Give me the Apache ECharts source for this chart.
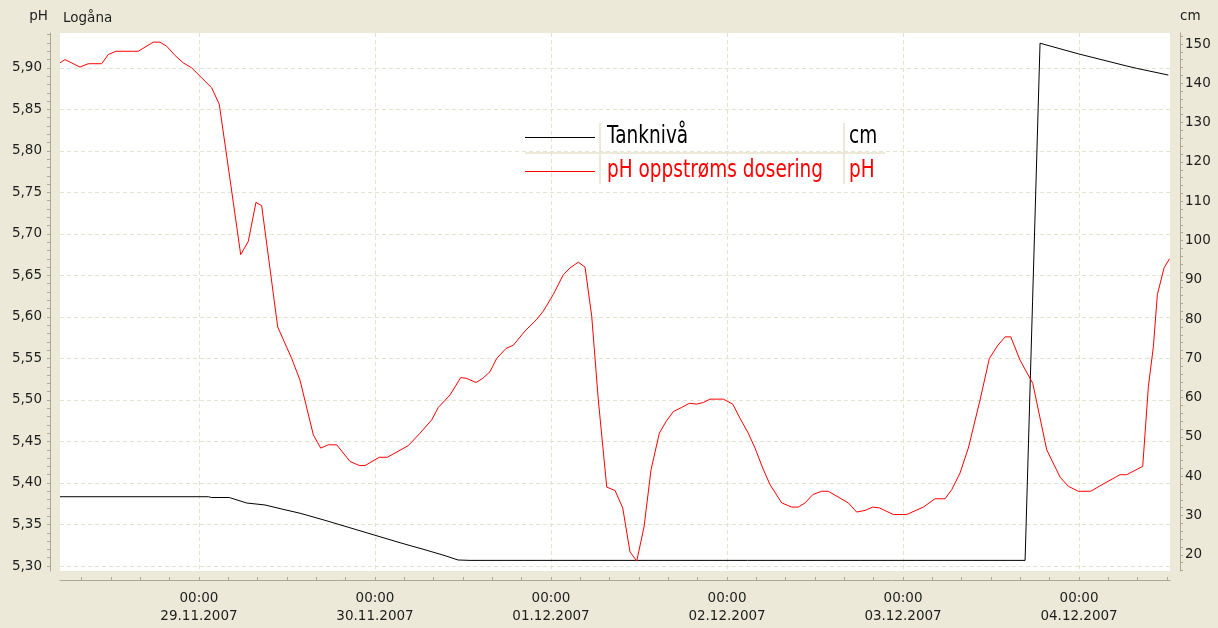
<!DOCTYPE html>
<html>
<head>
<meta charset="utf-8">
<title>Logåna</title>
<script src="https://cdn.jsdelivr.net/npm/echarts@6/dist/echarts.min.js"></script>
<style>
  html, body { margin: 0; padding: 0; background: #ece9d8; }
  #chart { width: 1218px; height: 628px; }
</style>
</head>
<body>
<div id="chart"></div>
<script>
// time in hours after 28.11.2007 00:00
const phHours = [5.05, 5.73, 7.77, 8.90, 10.73, 11.63, 12.68, 15.72, 17.77, 18.68, 19.60, 20.73, 21.86, 23.00,
  24.14, 25.73, 26.77, 27.55, 28.68, 29.69, 30.72, 31.77, 32.55, 34.73, 36.64, 37.77, 39.59, 40.60, 41.63, 42.78,
  44.59, 45.86, 46.64, 48.59, 49.68, 52.54, 54.14, 55.73, 56.63, 58.23, 59.69, 60.50, 61.77, 62.69, 63.68, 64.59,
  65.86, 66.86, 68.45, 70.05, 70.95, 72.31, 73.68, 74.59, 75.72, 76.64, 77.55, 78.45, 79.60, 80.73, 81.78, 82.77,
  83.69, 84.68, 85.64, 86.77, 87.68, 88.68, 89.82, 90.86, 91.87, 92.77, 93.68, 95.50, 96.78, 97.77, 98.90, 99.82,
  100.87, 101.86, 103.46, 104.82, 105.72, 106.64, 107.69, 108.91, 109.81, 112.54, 113.68, 114.82, 115.87, 116.77,
  118.68, 120.50, 122.77, 124.36, 125.73, 126.64, 127.77, 128.90, 130.50, 131.77, 132.86, 133.91, 134.69, 135.95,
  137.69, 139.59, 141.41, 142.54, 143.90, 145.59, 147.54, 149.59, 150.50, 152.68, 153.45, 154.13, 154.68, 155.59, 156.32];
const phValues = [5.906, 5.910, 5.901, 5.905, 5.905, 5.916, 5.920, 5.920, 5.931, 5.931, 5.926, 5.915, 5.906, 5.900,
  5.890, 5.876, 5.856, 5.808, 5.738, 5.675, 5.691, 5.738, 5.734, 5.588, 5.550, 5.524, 5.458, 5.442, 5.446, 5.446,
  5.426, 5.421, 5.421, 5.431, 5.431, 5.445, 5.460, 5.476, 5.491, 5.506, 5.527, 5.526, 5.521, 5.526, 5.534, 5.550,
  5.562, 5.566, 5.583, 5.597, 5.607, 5.627, 5.651, 5.659, 5.666, 5.660, 5.601, 5.500, 5.395, 5.391, 5.370, 5.317,
  5.306, 5.347, 5.416, 5.460, 5.474, 5.486, 5.491, 5.496, 5.495, 5.497, 5.501, 5.501, 5.495, 5.478, 5.460, 5.442,
  5.418, 5.398, 5.376, 5.371, 5.371, 5.376, 5.386, 5.390, 5.390, 5.376, 5.365, 5.367, 5.371, 5.370,
  5.362, 5.362, 5.371, 5.381, 5.381, 5.392, 5.412, 5.442, 5.500, 5.550, 5.565, 5.576, 5.576, 5.548,
  5.520, 5.440, 5.407, 5.396, 5.390, 5.390, 5.400, 5.410, 5.410, 5.420, 5.516, 5.564, 5.627, 5.659, 5.670];

const levelHours = [5.05, 25.27, 25.73, 28.13, 30.50, 33.00, 35.45, 37.77, 41.18, 44.59, 48.00, 51.41, 54.82,
  57.55, 59.32, 60.95, 136.64, 138.68, 143.90, 150.50, 151.86, 156.18];
const levelValues = [34.8, 34.8, 34.6, 34.6, 33.2, 32.7, 31.6, 30.6, 28.8, 26.9, 25.0, 23.1, 21.3,
  19.8, 18.7, 18.6, 18.6, 150.2, 147.5, 144.4, 143.8, 142.1];

const phTicks = [5.30, 5.35, 5.40, 5.45, 5.50, 5.55, 5.60, 5.65, 5.70, 5.75, 5.80, 5.85, 5.90];
const cmTicks = [20, 30, 40, 50, 60, 70, 80, 90, 100, 110, 120, 130, 140, 150];
const dayHours = [24, 48, 72, 96, 120, 144];
const dayLabels = ['29.11.2007', '30.11.2007', '01.12.2007', '02.12.2007', '03.12.2007', '04.12.2007'];

const xMin = 5.05, xMax = 156.4;
const phMin = 5.294, phMax = 5.942;
const cmMin = 15.9, cmMax = 152.8;

// small ticks: every 4 h, every 0.01 pH, every 2 cm
const hourTicks = [];
for (let h = 8; h <= xMax; h += 4) hourTicks.push(h);
const phMinor = [];
for (let i = 530; i <= 594; i++) phMinor.push(i / 100);
const cmMinor = [];
for (let c = 16; c <= 152; c += 2) cmMinor.push(c);

const font = 'DejaVu Sans, Verdana, sans-serif';
const textColor = '#1e1e1e';
const axisColor = '#aaa89a';
const gridColor = '#e6e3cc';

const chart = echarts.init(document.getElementById('chart'));
chart.setOption({
  backgroundColor: '#ece9d8',
  animation: false,
  title: {
    text: 'Logåna', left: 58, top: 6,
    textStyle: { fontFamily: font, fontSize: 13.5, fontWeight: 'normal', color: textColor }
  },
  grid: { left: 60, right: 48, top: 33, bottom: 57, show: true, backgroundColor: '#fff', borderWidth: 0 },
  xAxis: [
    {
      type: 'value', min: xMin, max: xMax, position: 'bottom', offset: 9,
      axisLine: { show: true, lineStyle: { color: axisColor } },
      axisTick: { show: true, inside: true, length: 3, customValues: hourTicks, lineStyle: { color: axisColor } },
      axisLabel: {
        customValues: dayHours, margin: 9, lineHeight: 18,
        fontFamily: font, fontSize: 13.5, color: textColor,
        formatter: v => {
          const i = dayHours.findIndex(d => Math.abs(d - v) < 0.01);
          return '00:00\n' + (i >= 0 ? dayLabels[i] : '');
        }
      },
      splitLine: { show: false }
    },
    {
      type: 'value', min: xMin, max: xMax, position: 'top',
      axisLine: { show: false },
      axisTick: { show: false, customValues: dayHours },
      axisLabel: { show: false },
      splitLine: { show: true, lineStyle: { color: gridColor, type: [4, 3] } }
    }
  ],
  yAxis: [
    {
      type: 'value', min: phMin, max: phMax, position: 'left', offset: 10,
      name: 'pH', nameLocation: 'end', nameGap: 17,
      nameTextStyle: { fontFamily: font, fontSize: 13.5, color: textColor, align: 'right', verticalAlign: 'middle', padding: [0, 2, 0, 0] },
      axisLine: { show: true, lineStyle: { color: axisColor } },
      axisTick: { show: true, length: 3, customValues: phMinor, lineStyle: { color: axisColor } },
      axisLabel: {
        customValues: phTicks, margin: 8, fontFamily: font, fontSize: 13.5, color: textColor,
        formatter: v => v.toFixed(2).replace('.', ',')
      },
      splitLine: { show: false }
    },
    {
      type: 'value', min: cmMin, max: cmMax, position: 'right', offset: 10,
      name: 'cm', nameLocation: 'end', nameGap: 17,
      nameTextStyle: { fontFamily: font, fontSize: 13.5, color: textColor, align: 'left', verticalAlign: 'middle' },
      axisLine: { show: true, lineStyle: { color: axisColor } },
      axisTick: { show: true, length: 3, customValues: cmMinor, lineStyle: { color: axisColor } },
      axisLabel: {
        customValues: cmTicks, margin: 5, fontFamily: font, fontSize: 13.5, color: textColor
      },
      splitLine: { show: false }
    },
    {
      type: 'value', min: phMin, max: phMax, position: 'left',
      axisLine: { show: false },
      axisTick: { show: false, customValues: phTicks },
      axisLabel: { show: false },
      splitLine: { show: true, lineStyle: { color: gridColor, type: [4, 3] } }
    }
  ],
  graphic: [
    // legend table
    { type: 'line', shape: { x1: 525, y1: 153, x2: 885, y2: 153 }, style: { stroke: '#ece9d8', lineWidth: 2 } },
    { type: 'line', shape: { x1: 600, y1: 123, x2: 600, y2: 184 }, style: { stroke: '#ece9d8', lineWidth: 2 } },
    { type: 'line', shape: { x1: 844, y1: 123, x2: 844, y2: 184 }, style: { stroke: '#ece9d8', lineWidth: 2 } },
    { type: 'line', shape: { x1: 525, y1: 137.5, x2: 595, y2: 137.5 }, style: { stroke: '#000', lineWidth: 1 } },
    { type: 'line', shape: { x1: 525, y1: 171.5, x2: 595, y2: 171.5 }, style: { stroke: '#ff0000', lineWidth: 1 } },
    { type: 'text', x: 607, y: 137, scaleY: 1.3,
      style: { text: 'Tanknivå', fill: '#000', font: '18.5px ' + font, verticalAlign: 'middle' } },
    { type: 'text', x: 849, y: 137, scaleY: 1.3,
      style: { text: 'cm', fill: '#000', font: '18.5px ' + font, verticalAlign: 'middle' } },
    { type: 'text', x: 607, y: 171, scaleY: 1.3,
      style: { text: 'pH oppstrøms dosering', fill: '#ff0000', font: '18.5px ' + font, verticalAlign: 'middle' } },
    { type: 'text', x: 849, y: 171, scaleY: 1.3,
      style: { text: 'pH', fill: '#ff0000', font: '18.5px ' + font, verticalAlign: 'middle' } }
  ],
  series: [
    {
      name: 'Tanknivå', type: 'line', xAxisIndex: 0, yAxisIndex: 1,
      data: levelHours.map((h, i) => [h, levelValues[i]]),
      showSymbol: false, lineStyle: { color: '#000', width: 1 }, itemStyle: { color: '#000' }
    },
    {
      name: 'pH oppstrøms dosering', type: 'line', xAxisIndex: 0, yAxisIndex: 0,
      data: phHours.map((h, i) => [h, phValues[i]]),
      showSymbol: false, lineStyle: { color: '#ff0000', width: 1 }, itemStyle: { color: '#ff0000' }
    }
  ]
});
</script>
</body>
</html>
